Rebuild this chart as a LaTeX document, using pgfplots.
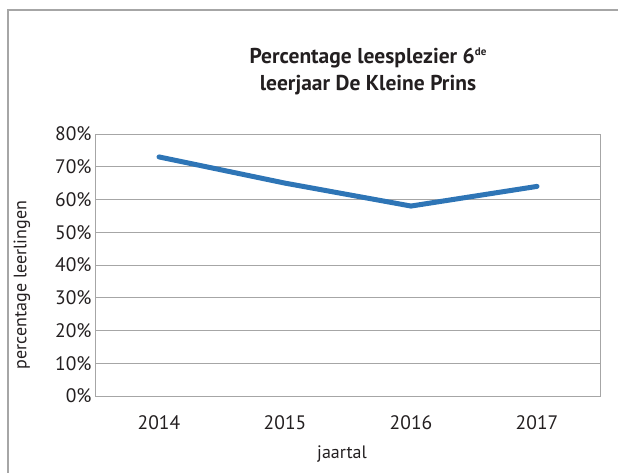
\documentclass[border=0pt]{standalone}
\usepackage{pgfplots}
\pgfplotsset{compat=1.18}
\usepackage{fontspec}
\setmainfont{PT Sans}
\definecolor{lineblue}{RGB}{46,117,182}
\definecolor{gridgray}{RGB}{166,166,166}
\definecolor{txt}{RGB}{35,31,32}
\begin{document}
\begin{tikzpicture}[x=1pt,y=1pt]
\useasboundingbox (-96,-76) rectangle (522,396);
\draw[gridgray, line width=1.2pt] (-88,-90) -- (-88,386) -- (540,386);
\begin{axis}[
  at={(0,0)}, anchor=south west,
  scale only axis, width=504pt, height=262pt,
  xmin=-0.5, xmax=3.5, ymin=0, ymax=80,
  ytick={0,10,...,80},
  yticklabel={\pgfmathprintnumber{\tick}\%},
  xtick={0,1,2,3},
  xticklabels={2014,2015,2016,2017},
  ymajorgrids,
  grid style={gridgray, line width=1pt},
  axis line style={gridgray, line width=1pt},
  major tick length=0pt,
  tick label style={font=\fontsize{19.5}{22}\selectfont, text=txt},
  /pgf/number format/assume math mode=true,
  yticklabel style={xshift=-1pt},
  xticklabel style={yshift=-16pt},
]
\addplot[lineblue, line width=5pt, line cap=round, line join=round] coordinates {
  (0,73) (1,65) (2,58) (3,64)
};
\end{axis}
\node[align=center, font=\bfseries\fontsize{21.5}{27}\selectfont, text=txt] at (272,324.5) {Percentage leesplezier 6\raisebox{0.75ex}{\fontsize{11}{11}\selectfont de}\\leerjaar De Kleine Prins};
\node[rotate=90, font=\fontsize{18}{20}\selectfont, text=txt] at (-74,111) {percentage leerlingen};
\node[font=\fontsize{18}{20}\selectfont, text=txt] at (246,-58) {jaartal};
\end{tikzpicture}
\end{document}
